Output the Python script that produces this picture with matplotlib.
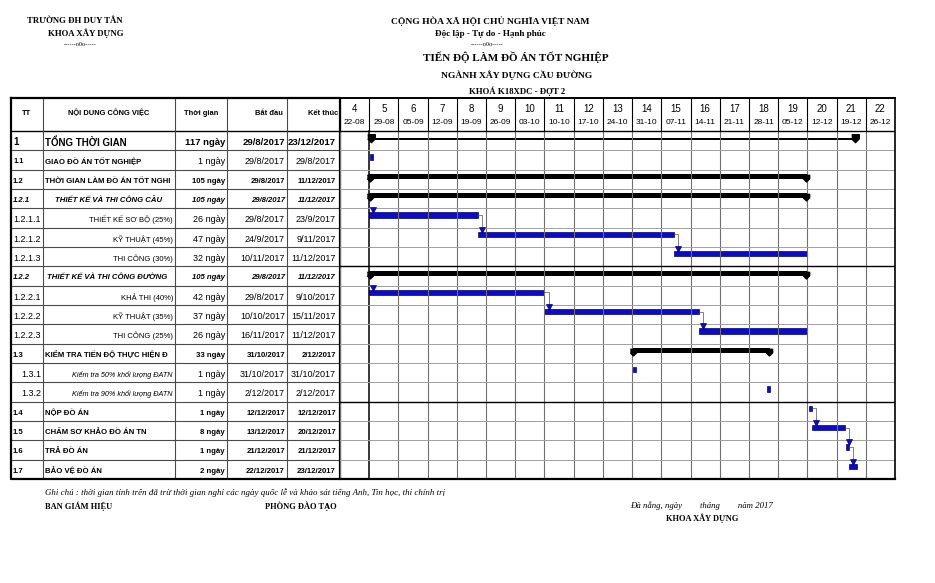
import matplotlib
matplotlib.use('Agg')
import matplotlib.pyplot as plt
import matplotlib.dates as mdates
from datetime import datetime, timedelta

tt = ['1', '1.1', '1.2', '1.2.1', '1.2.1.1', '1.2.1.2', '1.2.1.3', '1.2.2', '1.2.2.1',
      '1.2.2.2', '1.2.2.3', '1.3', '1.3.1', '1.3.2', '1.4', '1.5', '1.6', '1.7']
tasks = ['TỔNG THỜI GIAN', 'GIAO ĐỒ ÁN TỐT NGHIỆP', 'THỜI GIAN LÀM ĐỒ ÁN TỐT NGHI',
         'THIẾT KẾ VÀ THI CÔNG CẦU', 'THIẾT KẾ SƠ BỘ (25%)', 'KỸ THUẬT (45%)', 'THI CÔNG (30%)',
         'THIẾT KẾ VÀ THI CÔNG ĐƯỜNG', 'KHẢ THI (40%)', 'KỸ THUẬT (35%)', 'THI CÔNG (25%)',
         'KIỂM TRA TIẾN ĐỘ THỰC HIỆN Đ', 'Kiểm tra 50% khối lượng ĐATN',
         'Kiểm tra 90% khối lượng ĐATN', 'NỘP ĐỒ ÁN', 'CHẤM SƠ KHẢO ĐỒ ÁN TN', 'TRẢ ĐỒ ÁN',
         'BẢO VỆ ĐỒ ÁN']
durations = [117, 1, 105, 105, 26, 47, 32, 105, 42, 37, 26, 33, 1, 1, 1, 8, 1, 2]
starts = ['29/8/2017', '29/8/2017', '29/8/2017', '29/8/2017', '29/8/2017', '24/9/2017',
          '10/11/2017', '29/8/2017', '29/8/2017', '10/10/2017', '16/11/2017', '31/10/2017',
          '31/10/2017', '2/12/2017', '12/12/2017', '13/12/2017', '21/12/2017', '22/12/2017']
ends = ['23/12/2017', '29/8/2017', '11/12/2017', '11/12/2017', '23/9/2017', '9/11/2017',
        '11/12/2017', '11/12/2017', '9/10/2017', '15/11/2017', '11/12/2017', '2/12/2017',
        '31/10/2017', '2/12/2017', '12/12/2017', '20/12/2017', '21/12/2017', '23/12/2017']
preds = [None, None, None, None, 1, 4, 5, None, 1, 8, 9, None, None, None, None, 14, 15, 16]
weeks = list(range(4, 23))
week_labels = ['22-08', '29-08', '05-09', '12-09', '19-09', '26-09', '03-10', '10-10', '17-10',
               '24-10', '31-10', '07-11', '14-11', '21-11', '28-11', '05-12', '12-12', '19-12',
               '26-12']

# row styles (table text / bar kind)
row_style = ['total', 'main', 'group', 'sub', 'item', 'item', 'item', 'sub2', 'item', 'item',
             'item', 'group', 'check', 'check', 'group', 'group', 'group', 'group']
bar_kind = ['total', 'task', 'summary', 'summary', 'task', 'task', 'task', 'summary', 'task',
            'task', 'task', 'summary', 'task', 'task', 'task', 'task', 'task', 'task']

W, H = 935, 583
TOP, BOTTOM = 98, 479
HEAD = 1.7
N = len(tt)
SANS = 'Liberation Sans'
SERIF = 'Liberation Serif'
BLUE = '#0b0bc8'
EDGE = '#00006e'

fig = plt.figure(figsize=(W / 100, H / 100), dpi=100)


def fx(px):
    return px / W


def fy(py):
    return 1 - py / H


ax_t = fig.add_axes([fx(11), fy(BOTTOM), fx(340 - 11), (BOTTOM - TOP) / H])
ax_g = fig.add_axes([fx(340), fy(BOTTOM), fx(895 - 340), (BOTTOM - TOP) / H])
for ax in (ax_t, ax_g):
    ax.set_ylim(N, -HEAD)
    ax.axis('off')
ax_t.set_xlim(11, 340)

d0 = datetime(2017, 8, 22)
week_dt = [datetime(2017, int(s[3:]), int(s[:2])) for s in week_labels]
x_end = mdates.date2num(week_dt[-1] + timedelta(days=7))
ax_g.set_xlim(mdates.date2num(d0), x_end)

# ---- table ----
col_edges = [11, 43, 175, 227, 287, 340]
for i in range(1, N):
    ax_t.plot([11, 340], [i, i], color='#4a4a4a', lw=0.8)
ax_t.plot([11, 340], [0, 0], color='black', lw=1.0)
for xe in col_edges[1:-1]:
    ax_t.plot([xe, xe], [-HEAD, N], color='#4a4a4a', lw=0.8)
ax_t.plot([11, 340, 340, 11, 11], [-HEAD, -HEAD, N, N, -HEAD], color='black', lw=1.6,
          clip_on=False)

hy = -0.9
hf = dict(va='center', fontsize=5.4, fontweight='bold', family=SANS)
ax_t.text(27, hy, 'TT', ha='center', **hf)
ax_t.text(109, hy, 'NỘI DUNG CÔNG VIỆC', ha='center', **hf)
ax_t.text(201, hy, 'Thời gian', ha='center', **hf)
ax_t.text(283, hy, 'Bắt đầu', ha='right', **hf)
ax_t.text(338, hy, 'Kết thúc', ha='right', **hf)

for i in range(N):
    st = row_style[i]
    y = i + 0.6
    dur = f'{durations[i]} ngày'
    if st == 'total':
        f_tt = f_task = dict(fontsize=7, fontweight='bold')
        f_num = dict(fontsize=6.8, fontweight='bold')
        task_x, task_ha = 45, 'left'
    elif st == 'main':
        f_tt = dict(fontsize=5.3, fontweight='bold')
        f_task = dict(fontsize=5.6, fontweight='bold')
        f_num = dict(fontsize=6.5)
        task_x, task_ha = 45, 'left'
    elif st == 'group':
        f_tt = f_task = f_num = dict(fontsize=5.6, fontweight='bold')
        task_x, task_ha = 45, 'left'
    elif st in ('sub', 'sub2'):
        f_tt = f_task = f_num = dict(fontsize=5.6, fontweight='bold', style='italic')
        task_x, task_ha = (109, 'center') if st == 'sub' else (47, 'left')
    elif st == 'item':
        f_tt = dict(fontsize=6.5)
        f_task = dict(fontsize=5.5)
        f_num = dict(fontsize=6.5)
        task_x, task_ha = 173, 'right'
    else:
        f_tt = dict(fontsize=6.5)
        f_task = dict(fontsize=5.2, style='italic')
        f_num = dict(fontsize=6.5)
        task_x, task_ha = 173, 'right'
    if st == 'check':
        ax_t.text(41, y, tt[i], ha='right', va='center', family=SANS, **f_tt)
    else:
        ax_t.text(13, y, tt[i], ha='left', va='center', family=SANS, **f_tt)
    ax_t.text(task_x, y, tasks[i], ha=task_ha, va='center', family=SANS, **f_task)
    ax_t.text(225, y, dur, ha='right', va='center', family=SANS, **f_num)
    ax_t.text(285, y, starts[i], ha='right', va='center', family=SANS, **f_num)
    ax_t.text(336, y, ends[i], ha='right', va='center', family=SANS, **f_num)

# ---- gantt grid ----
wx = [mdates.date2num(d) for d in week_dt] + [x_end]
for k, xv in enumerate(wx):
    ax_g.plot([xv, xv], [-HEAD, 0], color='black', lw=0.8)
    body_col = 'black' if k == 1 else '#707070'
    ax_g.plot([xv, xv], [0, N], color=body_col, lw=1.1 if k == 1 else 0.8)
for i in range(1, N):
    dark = i in (7, 14)
    ax_g.plot(ax_g.get_xlim(), [i, i], color='black' if dark else '#a0a0a0',
              lw=1.0 if dark else 0.7)
ax_g.plot(ax_g.get_xlim(), [0, 0], color='black', lw=1.0)
ax_g.plot(ax_g.get_xlim(), [-HEAD, -HEAD], color='black', lw=1.4, clip_on=False)
ax_g.plot(ax_g.get_xlim(), [N, N], color='black', lw=1.6, clip_on=False)
ax_g.plot([x_end, x_end], [-HEAD, N], color='black', lw=1.2, clip_on=False)

for k in range(len(weeks)):
    xc = wx[k] + 3.5
    ax_g.text(xc, -1.12, str(weeks[k]), ha='center', va='center', fontsize=7, family=SANS)
    ax_g.text(xc, -0.42, week_labels[k], ha='center', va='center', fontsize=6, family=SANS)

# ---- bars ----
penta = [(-1, 1), (1, 1), (1, -0.1), (0, -1.1), (-1, -0.1)]
s_num = [mdates.date2num(datetime.strptime(s, '%d/%m/%Y')) for s in starts]
e_num = [mdates.date2num(datetime.strptime(s, '%d/%m/%Y')) + 1 for s in ends]

for i in range(N):
    s, e = s_num[i], e_num[i]
    kind = bar_kind[i]
    if kind == 'total':
        ax_g.barh(i + 0.41, e - s, left=s, height=0.13, color='black')
        ax_g.plot([s + 0.5, e - 0.5], [i + 0.38, i + 0.38], ls='none', marker=penta,
                  markersize=6, color='black')
    elif kind == 'summary':
        ax_g.barh(i + 0.36, e - s, left=s, height=0.26, color='black')
        ax_g.plot([s + 0.3, e - 0.3], [i + 0.44, i + 0.44], ls='none', marker=penta,
                  markersize=5, color='black')
    else:
        if durations[i] == 1:
            left, width = s + 0.3, 0.7
        else:
            left, width = s, e - s
        ax_g.barh(i + 0.35, width, left=left, height=0.28, color=BLUE, edgecolor=EDGE,
                  linewidth=0.5)
        p = preds[i]
        if p is not None:
            xa = s + 1.0
            if p == i - 1:
                ax_g.plot([e_num[p], xa, xa], [p + 0.35, p + 0.35, i + 0.06],
                          color='#505050', lw=0.5)
            ax_g.plot([xa], [i + 0.1], marker='v', markersize=5, color=BLUE,
                      markeredgecolor=EDGE, markeredgewidth=0.5)

# ---- titles and notes ----
tb = dict(family=SERIF, fontweight='bold', ha='center', va='center')
fig.text(fx(75), fy(21), 'TRƯỜNG ĐH DUY TÂN', fontsize=6.3, **tb)
fig.text(fx(86), fy(33), 'KHOA XÂY DỰNG', fontsize=6.3, **tb)
fig.text(fx(80), fy(45), '------o0o-----', fontsize=4.5, family=SERIF, ha='center', va='center')
fig.text(fx(490), fy(21), 'CỘNG HÒA XÃ HỘI CHỦ NGHĨA VIỆT NAM', fontsize=6.8, **tb)
fig.text(fx(490), fy(34), 'Độc lập - Tự do - Hạnh phúc', fontsize=6.6, **tb)
fig.text(fx(487), fy(45), '------o0o-----', fontsize=4.5, family=SERIF, ha='center',
         va='center')
fig.text(fx(516), fy(57), 'TIẾN ĐỘ LÀM ĐỒ ÁN TỐT NGHIỆP', fontsize=8, **tb)
fig.text(fx(517), fy(75), 'NGÀNH XÂY DỰNG CẦU ĐƯỜNG', fontsize=6.8, **tb)
fig.text(fx(517), fy(91), 'KHOÁ K18XDC - ĐỢT 2', fontsize=6.3, **tb)

fig.text(fx(45), fy(493), 'Ghi chú : thời gian tính trên đã trừ thời gian nghỉ các ngày quốc lễ '
         'và khảo sát tiếng Anh, Tin học, thi chính trị', fontsize=6.4, family=SERIF,
         style='italic', ha='left', va='center')
fig.text(fx(45), fy(506), 'BAN GIÁM HIỆU', fontsize=6, family=SERIF, fontweight='bold',
         ha='left', va='center')
fig.text(fx(265), fy(506), 'PHÒNG ĐÀO TẠO', fontsize=6, family=SERIF, fontweight='bold',
         ha='left', va='center')
fig.text(fx(630), fy(506), 'Đà nẵng, ngày        tháng        năm 2017', fontsize=6.3,
         family=SERIF, style='italic', ha='left', va='center')
fig.text(fx(702), fy(518), 'KHOA XÂY DỰNG', fontsize=6, family=SERIF, fontweight='bold',
         ha='center', va='center')

fig.savefig('out.png', dpi=100, facecolor='white')
